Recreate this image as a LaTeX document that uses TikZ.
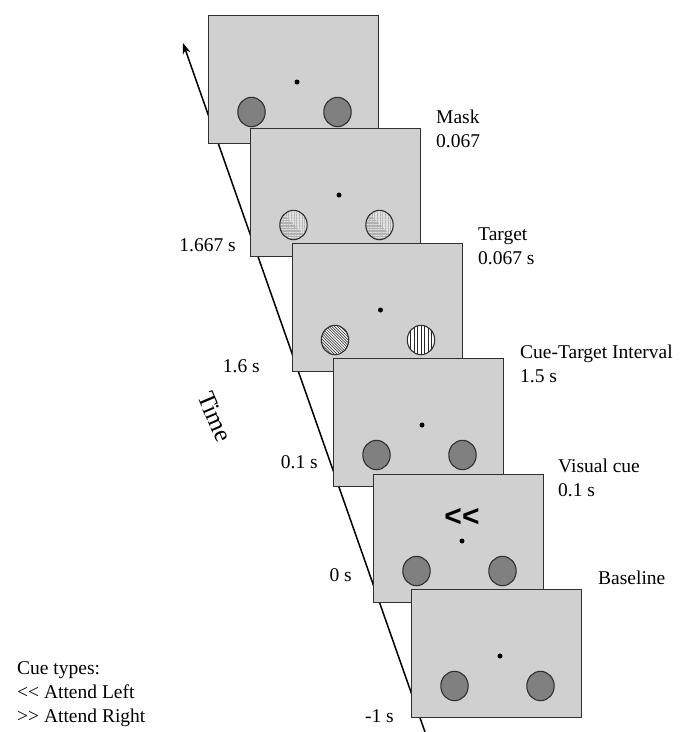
\documentclass[tikz,border=0pt]{standalone}
\usepackage{fontspec}
\setmainfont{Liberation Serif}
\newfontfamily\arialf{Liberation Sans}
\usetikzlibrary{arrows.meta,calc,shapes.geometric}
\definecolor{scr}{HTML}{D0D0D0}
\definecolor{disc}{HTML}{808080}
\definecolor{edge}{HTML}{303030}
\tikzset{
  screen/.style={rectangle, draw=edge, fill=scr, line width=1.1pt, minimum width=170pt, minimum height=128pt, inner sep=0pt, anchor=north west},
  blob/.style={ellipse, draw=edge, line width=1.1pt, minimum width=27.4pt, minimum height=29.4pt, inner sep=0pt},
  plain/.style={blob, fill=disc},
  plaid/.style={blob, fill=gray!45, path picture={
      \begin{scope}[shift={(path picture bounding box.center)}]
        \foreach \k in {-16,-14.4,...,16} {
          \draw[gray!25, line width=0.4pt] (\k,-16) -- (\k,16);
          \draw[gray!60, line width=0.3pt] (-16,\k) -- (16,\k);
        }
      \end{scope}}},
  diag/.style={blob, fill=white, path picture={
      \begin{scope}[shift={(path picture bounding box.center)}]
        \foreach \k in {-40,-37.2,...,40}
          \draw[black!75, line width=0.7pt] ({\k-20},-20) -- ({\k+20},20);
      \end{scope}}},
  vert/.style={blob, fill=white, path picture={
      \begin{scope}[shift={(path picture bounding box.center)}]
        \foreach \k in {-17.5,-14,...,17.5}
          \draw[black!85, line width=0.9pt] (\k,-16) -- (\k,16);
      \end{scope}}},
  fix/.style={circle, fill=black, minimum size=5pt, inner sep=0pt},
  lbl/.style={font=\fontsize{19.5}{24}\selectfont, inner sep=0pt, align=left, anchor=base west},
  tlbl/.style={font=\fontsize{19.5}{24}\selectfont, inner sep=0pt, anchor=east},
  cue/.style={font=\arialf\bfseries\fontsize{30}{30}\selectfont, inner sep=0pt},
}
\begin{document}
\begin{tikzpicture}[x=1pt,y=-1pt]
\useasboundingbox (0,0) rectangle (688,732);

% time axis (behind screens)
\coordinate (tbot) at (425,732);
\coordinate (ttop) at (183,43);
\draw[line width=1.5pt, -{Stealth[length=11pt,width=8pt]}] (tbot) -- (ttop);

% screens
\node[screen] (s1) at (208,15) {};
\node[fix] (s1f) at ($(s1.north west)+(89,67)$) {};
\node[plain] (s1l) at ($(s1.north west)+(43.5,97)$) {};
\node[plain] (s1r) at ($(s1.north west)+(129.5,97)$) {};

\node[screen] (s2) at (250,128) {};
\node[fix] (s2f) at ($(s2.north west)+(89,67)$) {};
\node[plaid] (s2l) at ($(s2.north west)+(43.5,97)$) {};
\node[plaid] (s2r) at ($(s2.north west)+(129.5,97)$) {};

\node[screen] (s3) at (291.5,243) {};
\node[fix] (s3f) at ($(s3.north west)+(89,67)$) {};
\node[diag] (s3l) at ($(s3.north west)+(43.5,97)$) {};
\node[vert] (s3r) at ($(s3.north west)+(129.5,97)$) {};

\node[screen] (s4) at (333,358) {};
\node[fix] (s4f) at ($(s4.north west)+(89,67)$) {};
\node[plain] (s4l) at ($(s4.north west)+(43.5,97)$) {};
\node[plain] (s4r) at ($(s4.north west)+(129.5,97)$) {};

\node[screen] (s5) at (373,474) {};
\node[cue] (s5c) at ($(s5.north west)+(89,43)$) {<<};
\node[fix] (s5f) at ($(s5.north west)+(89,67)$) {};
\node[plain] (s5l) at ($(s5.north west)+(43.5,97)$) {};
\node[plain] (s5r) at ($(s5.north west)+(129.5,97)$) {};

\node[screen] (s6) at (411,589) {};
\node[fix] (s6f) at ($(s6.north west)+(89,67)$) {};
\node[plain] (s6l) at ($(s6.north west)+(43.5,97)$) {};
\node[plain] (s6r) at ($(s6.north west)+(129.5,97)$) {};

% right labels (anchor = baseline of last line)
\node[lbl] (m) at (436,147.5) {Mask\\0.067};
\node[lbl] (t) at (478,264.5) {Target\\0.067 s};
\node[lbl] (cti) at (520,382.5) {Cue-Target Interval\\1.5 s};
\node[lbl] (vc) at (558,496.5) {Visual cue\\0.1 s};
\node[lbl] (b) at (598,584.5) {Baseline};

% time labels
\node[tlbl] (t1) at (236,245) {1.667 s};
\node[tlbl] (t2) at (260,366) {1.6 s};
\node[tlbl] (t3) at (318,462) {0.1 s};
\node[tlbl] (t4) at (352,575) {0 s};
\node[tlbl] (t5) at (394,716) {-1 s};

\node[font=\fontsize{25}{25}\selectfont, rotate=-67, inner sep=0pt] (time) at (215,417) {Time};

% legend
\node[lbl] (leg) at (17,722) {Cue types:\\<{}< Attend Left\\>{}> Attend Right};
\end{tikzpicture}
\end{document}
